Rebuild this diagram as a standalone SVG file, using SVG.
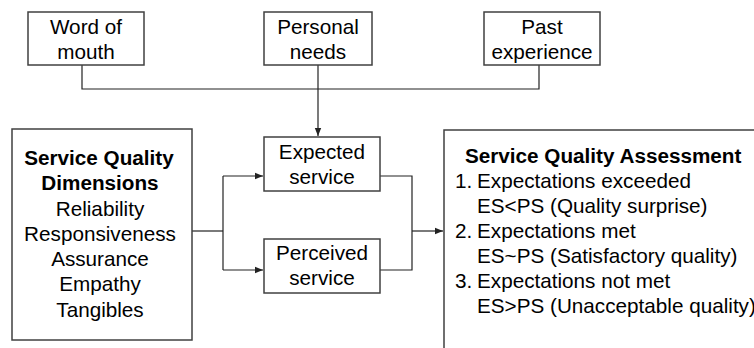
<svg xmlns="http://www.w3.org/2000/svg" width="754" height="348" viewBox="0 0 754 348">
<defs>
<style>
.box{fill:#fff;stroke:#404040;stroke-width:1.5}
.t{font-family:"Liberation Sans",Arial,sans-serif;font-size:20.7px;fill:#000}
.c{text-anchor:middle}
.b{font-weight:bold}
.ln{fill:none;stroke:#222;stroke-width:1.2}
</style>
<marker id="ah" viewBox="0 0 10 10" refX="10" refY="5" markerWidth="8" markerHeight="8" markerUnits="userSpaceOnUse" orient="auto">
<path d="M0,1 L10,5 L0,9 Z" fill="#222"/>
</marker>
</defs>
<rect width="754" height="348" fill="#fff"/>
<g id="connectors">
<polyline class="ln" points="82,65 82,89 539,89 539,65"/>
<line class="ln" x1="318" y1="65" x2="318" y2="136" marker-end="url(#ah)"/>
<polyline class="ln" points="192,231 223,231"/>
<polyline class="ln" points="223,176 223,270"/>
<line class="ln" x1="223" y1="176" x2="263" y2="176" marker-end="url(#ah)"/>
<line class="ln" x1="223" y1="270" x2="263" y2="270" marker-end="url(#ah)"/>
<polyline class="ln" points="380,176 412,176 412,270 380,270"/>
<line class="ln" x1="412" y1="231" x2="443" y2="231" marker-end="url(#ah)"/>
</g>
<g id="word-of-mouth">
<rect class="box" x="28" y="12" width="116" height="53"/>
<text class="t c" x="86" y="34">Word of</text>
<text class="t c" x="86" y="59">mouth</text>
</g>
<g id="personal-needs">
<rect class="box" x="264" y="12" width="108" height="53"/>
<text class="t c" x="318" y="34">Personal</text>
<text class="t c" x="318" y="59">needs</text>
</g>
<g id="past-experience">
<rect class="box" x="484" y="12" width="116" height="53"/>
<text class="t c" x="542" y="34">Past</text>
<text class="t c" x="542" y="59">experience</text>
</g>
<g id="expected-service">
<rect class="box" x="264" y="137" width="116" height="54"/>
<text class="t c" x="322" y="159">Expected</text>
<text class="t c" x="322" y="184">service</text>
</g>
<g id="perceived-service">
<rect class="box" x="264" y="239" width="116" height="54"/>
<text class="t c" x="322" y="260">Perceived</text>
<text class="t c" x="322" y="285">service</text>
</g>
<g id="dimensions">
<rect class="box" x="12" y="129" width="180" height="211"/>
<text class="t c b" x="99" y="165">Service Quality</text>
<text class="t c b" x="100" y="190">Dimensions</text>
<text class="t c" x="100" y="216">Reliability</text>
<text class="t c" x="100" y="241">Responsiveness</text>
<text class="t c" x="100" y="266">Assurance</text>
<text class="t c" x="100" y="291">Empathy</text>
<text class="t c" x="100" y="317">Tangibles</text>
</g>
<g id="assessment">
<rect class="box" x="444" y="130" width="330" height="240"/>
<text class="t b" x="465" y="163">Service Quality Assessment</text>
<text class="t" x="455" y="188">1.<tspan x="477">Expectations exceeded</tspan></text>
<text class="t" x="477" y="213">ES&lt;PS (Quality surprise)</text>
<text class="t" x="455" y="238">2.<tspan x="477">Expectations met</tspan></text>
<text class="t" x="477" y="263">ES~PS (Satisfactory quality)</text>
<text class="t" x="455" y="288">3.<tspan x="477">Expectations not met</tspan></text>
<text class="t" x="477" y="313">ES&gt;PS (Unacceptable quality)</text>
</g>
</svg>
